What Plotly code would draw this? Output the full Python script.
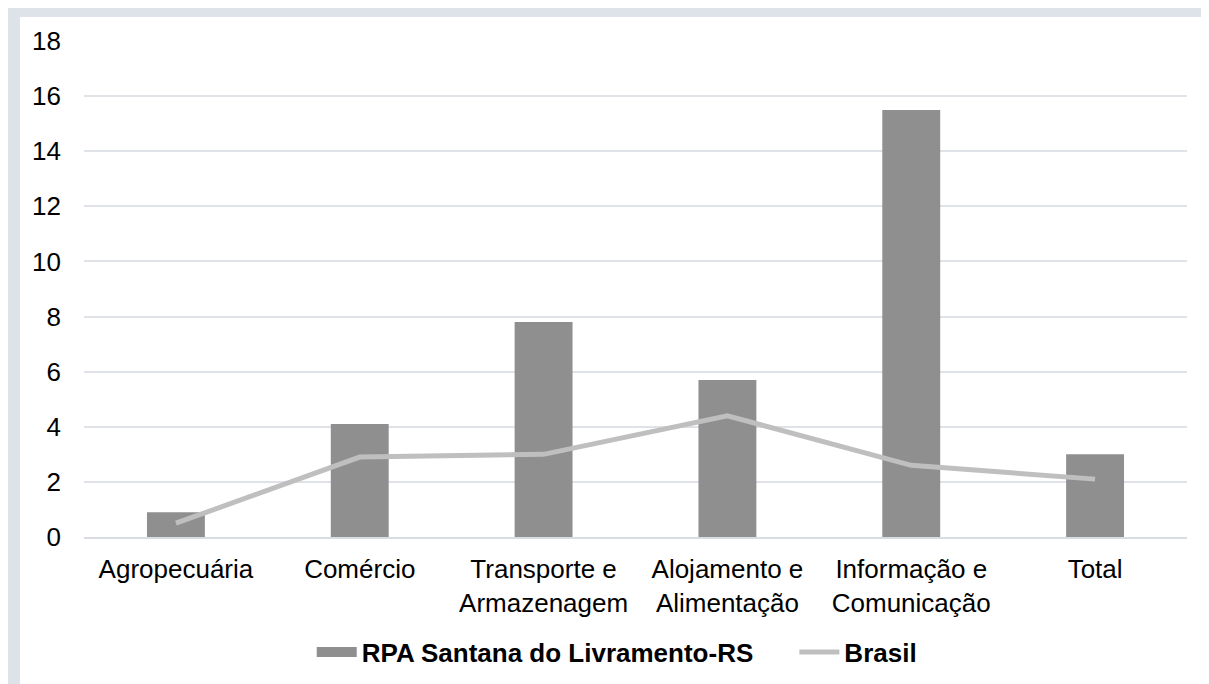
import plotly.graph_objects as go

categories = ["Agropecuária", "Comércio", "Transporte e<br>Armazenagem",
              "Alojamento e<br>Alimentação", "Informação e<br>Comunicação", "Total"]
rpa_values = [0.9, 4.1, 7.8, 5.7, 15.5, 3.0]
brasil_values = [0.5, 2.9, 3.0, 4.4, 2.6, 2.1]
y_ticks = [0, 2, 4, 6, 8, 10, 12, 14, 16, 18]

FONT = "Liberation Sans, Arial, sans-serif"
BAR_COLOR = "#8f8f8f"

fig = go.Figure()
fig.add_trace(go.Bar(
    x=categories, y=rpa_values, name="RPA Santana do Livramento-RS",
    marker=dict(color=BAR_COLOR, line=dict(width=0)), width=0.315,
    showlegend=False,
))
fig.add_trace(go.Scatter(
    x=categories, y=brasil_values, name="Brasil", mode="lines",
    line=dict(color="#bfbfbf", width=5), showlegend=False,
))
# legend proxies
fig.add_trace(go.Scatter(
    x=[None], y=[None], name="RPA Santana do Livramento-RS     ", mode="lines",
    line=dict(color=BAR_COLOR, width=10),
))
fig.add_trace(go.Scatter(
    x=[None], y=[None], name="Brasil", mode="lines",
    line=dict(color="#bfbfbf", width=5),
))

# frame bands (left and top)
band = "#dee2e9"
fig.add_shape(type="rect", xref="paper", yref="paper",
              x0=-0.0689, x1=-0.058, y0=-0.35, y1=1.0685,
              fillcolor=band, line=dict(width=0), layer="below")
fig.add_shape(type="rect", xref="paper", yref="paper",
              x0=-0.0689, x1=1.05, y0=1.0484, y1=1.0685,
              fillcolor=band, line=dict(width=0), layer="below")

fig.update_layout(
    width=1209, height=684,
    margin=dict(l=76, r=30, t=33, b=155),
    paper_bgcolor="white", plot_bgcolor="white",
    font=dict(family=FONT, size=26, color="#000000"),
    showlegend=True,
    legend=dict(orientation="h", x=0.483, xanchor="center", y=-0.232, yanchor="middle",
                font=dict(family=FONT, size=26, color="#000000", weight="bold"),
                itemwidth=40, traceorder="normal"),
    xaxis=dict(showgrid=False, showline=True, linecolor="#d9dde3", linewidth=2,
               ticks="", tickfont=dict(size=26), ticklabelstandoff=8),
    yaxis=dict(range=[0, 18], tickvals=y_ticks, showgrid=True, gridcolor="#dfe3e8",
               gridwidth=2, zeroline=False, showline=False, ticks="",
               tickfont=dict(size=26), ticklabelstandoff=22),
)

fig.write_html("out.html")
